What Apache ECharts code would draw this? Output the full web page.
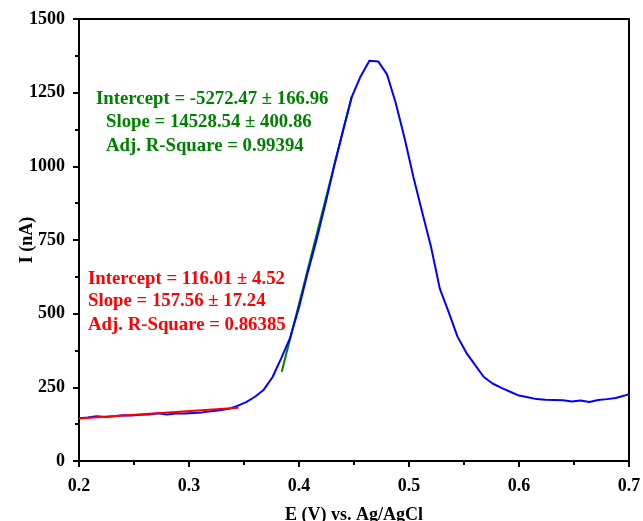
<!DOCTYPE html>
<html>
<head>
<meta charset="utf-8">
<script src="https://cdn.jsdelivr.net/npm/echarts@6/dist/echarts.min.js"></script>
<style>
html,body{margin:0;padding:0;background:#fff;}
#chart{width:643px;height:521px;}
</style>
</head>
<body>
<div id="chart"></div>
<script>
// Potential (V) vs Ag/AgCl
var potential = [0.200,0.208,0.216,0.224,0.232,0.240,0.248,0.256,0.264,0.272,0.280,0.288,0.296,0.304,0.312,0.320,0.328,0.336,0.344,0.352,0.360,0.368,0.376,0.384,0.392,0.400,0.408,0.416,0.424,0.432,0.440,0.448,0.456,0.464,0.472,0.480,0.488,0.496,0.504,0.512,0.520,0.528,0.536,0.544,0.552,0.560,0.568,0.576,0.584,0.592,0.600,0.608,0.616,0.624,0.632,0.640,0.648,0.656,0.664,0.672,0.680,0.688,0.696,0.700];
// Current (nA)
var current = [145,148,152,149,152,155,154,157,158,162,158,161,161,163,165,169,172,177,187,200,218,242,285,350,419,521,641,752,873,1002,1122,1236,1305,1358,1356,1312,1214,1095,964,844,727,585,506,423,368,326,285,263,248,235,222,216,210,208,207,206,202,205,200,207,210,214,222,227];
// Linear fit segments (endpoints)
var fitBaseX = [0.200, 0.345];
var fitBaseY = [144, 181];
var fitPeakX = [0.3843, 0.4479];
var fitPeakY = [303, 1236];
// Tick labels
var xTicks = [0.2,0.3,0.4,0.5,0.6,0.7];
var yTicks = [0,250,500,750,1000,1250,1500];
// Annotation text
var greenLines = ["Intercept = -5272.47 \u00b1 166.96","Slope = 14528.54 \u00b1 400.86","Adj. R-Square = 0.99394"];
var redLines = ["Intercept = 116.01 \u00b1 4.52","Slope = 157.56 \u00b1 17.24","Adj. R-Square = 0.86385"];

function pairs(xs, ys){ return xs.map(function(x,i){return [x, ys[i]];}); }

var FONT = "'Liberation Serif','Times New Roman',serif";
var chart = echarts.init(document.getElementById('chart'), null, {renderer:'canvas'});
var axisLine = {show:true, onZero:false, lineStyle:{color:'#000', width:2}};
var txt = function(s, x, y, color){
  return {type:'text', left:x, top:y, style:{text:s, fill:color, font:"bold 18.8px " + FONT}};
};
var option = {
  animation:false,
  backgroundColor:'#fff',
  grid:{left:79, right:14, top:19, bottom:60, containLabel:false, outerBoundsMode:'none'},
  xAxis:[{
    type:'value', min:0.2, max:0.7, interval:0.1,
    name:'E (V) vs. Ag/AgCl', nameLocation:'middle', nameGap:45, nameMoveOverlap:false,
    nameTextStyle:{fontFamily:FONT, fontWeight:'bold', fontSize:18, color:'#000'},
    axisLine:axisLine,
    axisTick:{show:true, inside:false, length:6, lineStyle:{color:'#000', width:2}},
    minorTick:{show:true, splitNumber:2, length:4, lineStyle:{color:'#000', width:2}},
    axisLabel:{fontFamily:FONT, fontWeight:'bold', fontSize:18, color:'#000', margin:16,
      formatter:function(v){ return v.toFixed(1); }},
    splitLine:{show:false}
  },{
    type:'value', position:'top', min:0.2, max:0.7,
    axisLine:axisLine, axisTick:{show:false}, axisLabel:{show:false}, splitLine:{show:false}
  }],
  yAxis:[{
    type:'value', min:0, max:1500, interval:250,
    name:'I (nA)', nameLocation:'middle', nameGap:43, nameRotate:90, nameMoveOverlap:false,
    nameTextStyle:{fontFamily:FONT, fontWeight:'bold', fontSize:18, color:'#000'},
    axisLine:axisLine,
    axisTick:{show:true, inside:false, length:6, lineStyle:{color:'#000', width:2}},
    minorTick:{show:true, splitNumber:2, length:4, lineStyle:{color:'#000', width:2}},
    axisLabel:{fontFamily:FONT, fontWeight:'bold', fontSize:18, color:'#000', margin:14,
      formatter:function(v){ return String(v); }},
    splitLine:{show:false}
  },{
    type:'value', position:'right', min:0, max:1500,
    axisLine:axisLine, axisTick:{show:false}, axisLabel:{show:false}, splitLine:{show:false}
  }],
  series:[
    {type:'line', data:pairs(potential, current), showSymbol:false, smooth:false,
      lineStyle:{color:'#0000ff', width:2}, z:3},
    {type:'line', data:pairs(fitBaseX, fitBaseY), showSymbol:false,
      lineStyle:{color:'#ff0000', width:2}, z:4},
    {type:'line', data:pairs(fitPeakX, fitPeakY), showSymbol:false,
      lineStyle:{color:'#008000', width:2}, z:2}
  ],
  graphic:[
    txt(greenLines[0], 96, 90, '#008000'),
    txt(greenLines[1], 106, 113, '#008000'),
    txt(greenLines[2], 106, 137, '#008000'),
    txt(redLines[0], 88, 270, '#ff0000'),
    txt(redLines[1], 88, 292, '#ff0000'),
    txt(redLines[2], 88, 316, '#ff0000')
  ]
};
chart.setOption(option);
</script>
</body>
</html>
